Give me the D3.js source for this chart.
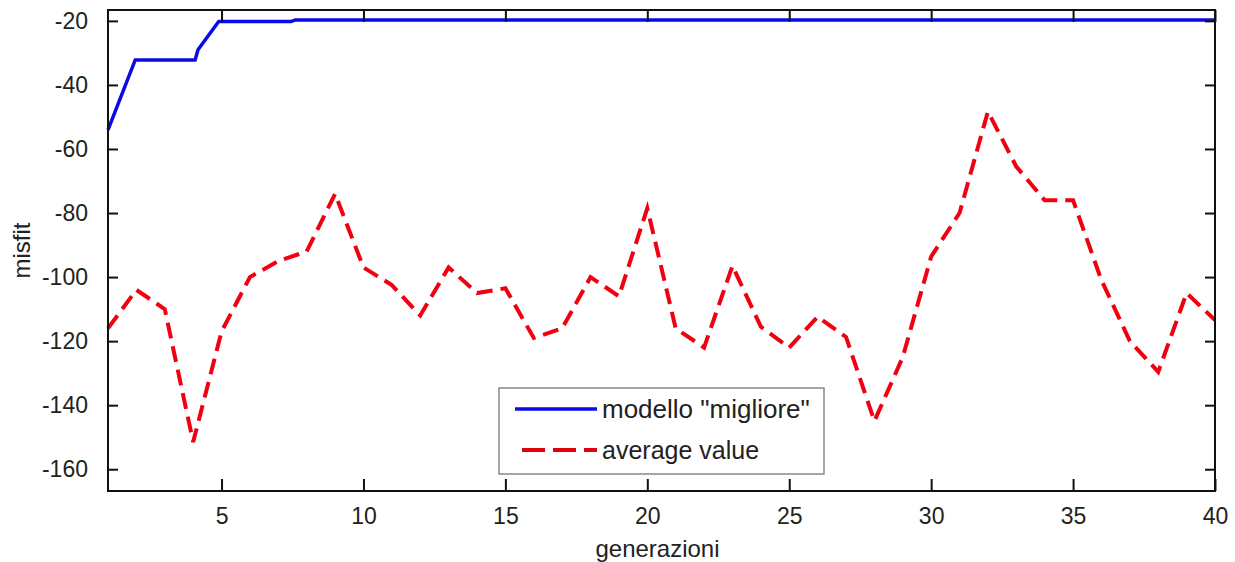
<!DOCTYPE html>
<html><head><meta charset="utf-8">
<script src="https://cdn.jsdelivr.net/npm/d3@7"></script>
<style>body{margin:0;background:#fff}svg text{font-family:"Liberation Sans",Arial,sans-serif;fill:#222}</style>
</head><body><svg id="c" width="1235" height="562"></svg>
<script>
const generations = d3.range(1, 41);
const bestGen   = [1, 1.96, 4.07, 4.17, 4.9, 7.45, 7.6, 40];
const bestModel = [-54, -32.2, -32.2, -29, -20.2, -20.2, -19.7, -19.7];
const averageValue = [-116,-104,-110,-151.5,-117,-100,-95,-92,-74,-97,
  -102.5,-112,-97,-105,-103.5,-119,-116,-100,-106,-78.5,
  -116,-122,-96.5,-115.5,-122,-112.4,-118.7,-145,-125,-93.6,
  -80,-48.3,-65.5,-76,-76,-101,-120,-129.6,-105,-113.4];
const xTicks = [5,10,15,20,25,30,35,40];
const yTicks = [-20,-40,-60,-80,-100,-120,-140,-160];
const seriesNames = ['modello "migliore"', 'average value'];

const svg = d3.select("#c");
const L = 108, R = 1215, T = 10, B = 491;
const x = d3.scaleLinear().domain([1, 40]).range([L, R]);
const y = d3.scaleLinear().domain([-166.8, -16.6]).range([B, T]);

const avgLine = d3.line().x((d, i) => x(generations[i])).y(d => y(d));
const bestLine = d3.line().x((d, i) => x(bestGen[i])).y(d => y(d));

svg.append("path").datum(averageValue).attr("d", avgLine)
  .attr("fill", "none").attr("stroke", "#f00010").attr("stroke-width", 4)
  .attr("stroke-dasharray", "16,8");
svg.append("path").datum(bestModel).attr("d", bestLine)
  .attr("fill", "none").attr("stroke", "#0a0ae6").attr("stroke-width", 3.5);

const fmt = d => String(d);
const ax = svg.append("g");
ax.append("g").attr("transform", `translate(0,${B})`)
  .call(d3.axisBottom(x).tickValues(xTicks).tickFormat(fmt).tickSizeInner(-12).tickSizeOuter(0).tickPadding(17))
  .call(g => g.select(".domain").remove());
ax.append("g").attr("transform", `translate(0,${T})`)
  .call(d3.axisTop(x).tickValues(xTicks).tickSizeInner(-12).tickSizeOuter(0).tickFormat(""))
  .call(g => g.select(".domain").remove());
ax.append("g").attr("transform", `translate(${L},0)`)
  .call(d3.axisLeft(y).tickValues(yTicks).tickFormat(fmt).tickSizeInner(-10).tickSizeOuter(0).tickPadding(20))
  .call(g => g.select(".domain").remove());
ax.append("g").attr("transform", `translate(${R},0)`)
  .call(d3.axisRight(y).tickValues(yTicks).tickSizeInner(-10).tickSizeOuter(0).tickFormat(""))
  .call(g => g.select(".domain").remove());
ax.selectAll(".tick line").attr("stroke", "#111").attr("stroke-width", 2);
ax.selectAll(".tick text").style("font-size", "23px").attr("fill", "#222");
ax.append("rect").attr("x", L).attr("y", T).attr("width", R - L).attr("height", B - T)
  .attr("fill", "none").attr("stroke", "#111").attr("stroke-width", 2);

svg.append("text").attr("x", (L + R) / 2 - 4).attr("y", 557).attr("text-anchor", "middle")
  .style("font-size", "24px").text("generazioni");
svg.append("text").attr("transform", `translate(30,${(T + B) / 2}) rotate(-90)`)
  .attr("text-anchor", "middle").style("font-size", "24px").text("misfit");

const lg = svg.append("g");
lg.append("rect").attr("x", 499).attr("y", 388).attr("width", 325).attr("height", 86)
  .attr("fill", "#fff").attr("stroke", "#888").attr("stroke-width", 1.5);
lg.append("line").attr("x1", 515).attr("x2", 597).attr("y1", 409).attr("y2", 409)
  .attr("stroke", "#0a0ae6").attr("stroke-width", 3.5);
lg.append("line").attr("x1", 522).attr("x2", 597).attr("y1", 450).attr("y2", 450)
  .attr("stroke", "#e00010").attr("stroke-width", 4).attr("stroke-dasharray", "23,8");
lg.append("text").attr("x", 602).attr("y", 418).style("font-size", "26px").text(seriesNames[0]);
lg.append("text").attr("x", 602).attr("y", 459).style("font-size", "25px").text(seriesNames[1]);
</script></body></html>
